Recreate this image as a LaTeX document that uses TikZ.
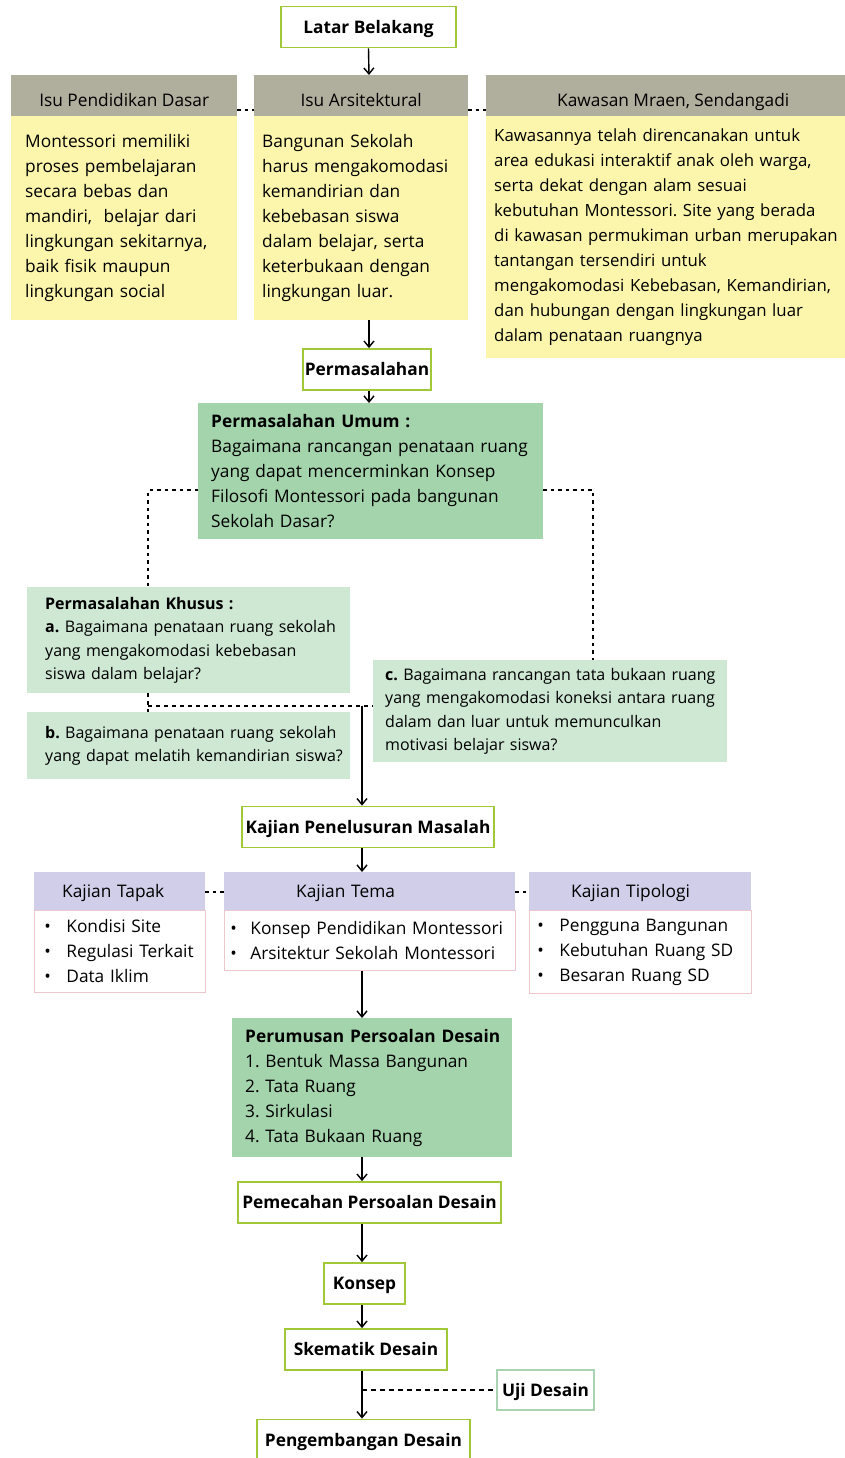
\documentclass[tikz,border=0pt]{standalone}
\usepackage{fontspec}
\setmainfont{Open Sans}
\usepackage{tikz}
\usetikzlibrary{positioning,arrows.meta,calc}
\definecolor{stLine}{RGB}{160,200,55}
\definecolor{ujLine}{RGB}{168,212,178}
\definecolor{hdGray}{RGB}{176,174,156}
\definecolor{isuFill}{RGB}{252,246,172}
\definecolor{umFill}{RGB}{164,212,172}
\definecolor{khFill}{RGB}{206,232,212}
\definecolor{kjHead}{RGB}{208,206,232}
\definecolor{kjLine}{RGB}{236,200,206}
\newcommand{\bul}{\makebox[22pt][l]{\textbullet}}
\newcommand{\padleft}[1]{\leftskip=#1\relax}
\frenchspacing

\begin{document}
\begin{tikzpicture}[x=1pt,y=-1pt,>={Straight Barb[length=6pt,width=10pt]},
  txt/.style  ={font=\fontsize{17.3}{25}\selectfont},
  stage/.style={draw=stLine,line width=1.8pt,fill=white,inner sep=0pt,minimum height=41pt,text height=12.4pt,text depth=0pt,font=\fontsize{17.3}{20}\selectfont\bfseries},
  hdr/.style  ={fill=hdGray,anchor=north west,inner sep=0pt,minimum height=41pt,text height=21pt,text depth=0pt,txt},
  isu/.style  ={fill=isuFill,anchor=north west,inner sep=0pt,align=left,txt},
  umum/.style ={fill=umFill,anchor=north west,inner sep=0pt,align=left,txt},
  khus/.style ={fill=khFill,anchor=north west,inner sep=0pt,align=left,font=\fontsize{16}{23.5}\selectfont},
  kjh/.style  ={fill=kjHead,anchor=north west,inner sep=0pt,minimum height=38pt,text height=17pt,text depth=5pt,align=left,txt},
  kjb/.style  ={draw=kjLine,line width=0.8pt,fill=white,anchor=north west,inner sep=0pt,align=left,txt},
  flow/.style ={->,line width=1.4pt},
  dots/.style ={line width=2pt,dash pattern=on 3.5pt off 4pt},
  thin/.style ={line width=1.3pt,dash pattern=on 4.5pt off 4.5pt}]

\useasboundingbox (0,0) rectangle (845,1458);

% latar belakang
\node[stage,minimum width=175pt] (latar) at (368.5,27) {Latar Belakang};

\node[hdr,minimum width=226pt] (hPend) at (11,75)  {Isu Pendidikan Dasar};
\node[hdr,minimum width=214pt] (hArs)  at (254,75) {Isu Arsitektural};
\node[hdr,minimum width=374pt] (hKaw)  at (486,75) {Kawasan Mraen, Sendangadi};

\node[isu,text width=226pt,minimum height=204pt] (bPend) at (11,116)
  {\padleft{14pt}Montessori memiliki\\ proses pembelajaran\\ secara bebas dan\\ mandiri,~ belajar dari\\ lingkungan sekitarnya,\\ baik fisik maupun\\ lingkungan social\par};
\node[isu,text width=214pt,minimum height=204pt] (bArs) at (254,116)
  {\padleft{8pt}Bangunan Sekolah\\ harus mengakomodasi\\ kemandirian dan\\ kebebasan siswa\\ dalam belajar, serta\\ keterbukaan dengan\\ lingkungan luar.\par};
\node[isu,text width=374pt,minimum height=242pt,font=\fontsize{16.8}{25}\selectfont] (bKaw) at (486,116)
  {\padleft{8pt}Kawasannya telah direncanakan untuk\\ area edukasi interaktif anak oleh warga,\\ serta dekat dengan alam sesuai\\ kebutuhan Montessori. Site yang berada\\ di kawasan permukiman urban merupakan\\ tantangan tersendiri untuk\\ mengakomodasi Kebebasan, Kemandirian,\\ dan hubungan dengan lingkungan luar\\ dalam penataan ruangnya\par};

\draw[dots] ([yshift=6pt]hPend.south east) -- ([yshift=6pt]hArs.south west);
\draw[dots] ([yshift=6pt]hArs.south east) -- ([yshift=6pt]hKaw.south west);

% permasalahan
\node[stage,minimum width=128pt] (masalah) at (367,369.5) {Permasalahan};
\node[umum,text width=345pt,minimum height=136pt] (umum) at (198,403)
  {\padleft{13pt}\textbf{Permasalahan Umum :}\\ Bagaimana rancangan penataan ruang\\ yang dapat mencerminkan Konsep\\ Filosofi Montessori pada bangunan\\ Sekolah Dasar?\par};

\coordinate (ax) at (369,0);
\draw[flow] (latar.south) -- (ax|-hArs.north);
\draw[flow] (ax|-bArs.south) -- (ax|-masalah.north);
\draw[flow] (ax|-masalah.south) -- (ax|-umum.north);

\node[khus,text width=323pt,minimum height=106pt] (khA) at (27,587)
  {\padleft{18pt}\textbf{Permasalahan Khusus :}\\ \textbf{a.} Bagaimana penataan ruang sekolah\\ yang mengakomodasi kebebasan\\ siswa dalam belajar?\par};
\node[khus,text width=323pt,minimum height=67pt] (khB) at (27,712)
  {\padleft{18pt}\textbf{b.} Bagaimana penataan ruang sekolah\\ yang dapat melatih kemandirian siswa?\par};
\node[khus,text width=354pt,minimum height=102pt] (khC) at (373,660)
  {\padleft{12pt}\textbf{c.} Bagaimana rancangan tata bukaan ruang\\ yang mengakomodasi koneksi antara ruang\\ dalam dan luar untuk memunculkan\\ motivasi belajar siswa?\par};

\coordinate (lTurn) at (148,490);
\coordinate (rTurn) at (593,490);
\coordinate (jn)    at (148,706);
\coordinate (mid)   at (362,706);
\draw[dots] (umum.west|-lTurn) -- (lTurn) -- (lTurn|-khA.north);
\draw[dots] (umum.east|-rTurn) -- (rTurn) -- (rTurn|-khC.north);
\draw[thin,line width=1.5pt,dash pattern=on 4pt off 4pt] (jn|-khA.south) -- (jn|-khB.north);
\draw[thin,line width=1.5pt,dash pattern=on 4pt off 4pt] (jn) -- (khC.west|-jn);

% kajian
\node[stage,minimum width=252pt] (kpm) at (368,827) {Kajian Penelusuran Masalah};
\draw[flow] (mid) -- (mid|-kpm.north);

\node[kjh,text width=171pt] (hTapak) at (34,872)  {\hspace*{28pt}Kajian Tapak};
\node[kjh,text width=291pt] (hTema)  at (224,872) {\hspace*{72pt}Kajian Tema};
\node[kjh,text width=222pt] (hTipo)  at (529,872) {\hspace*{42pt}Kajian Tipologi};
\node[kjb,text width=171pt,minimum height=82pt] (bTapak) at (34,910)
  {\padleft{10pt}\bul Kondisi Site\\ \bul Regulasi Terkait\\ \bul Data Iklim\par};
\node[kjb,text width=291pt,minimum height=60pt] (bTema) at (224,910)
  {\padleft{6pt}\makebox[20pt][l]{\textbullet}Konsep Pendidikan Montessori\\ \makebox[20pt][l]{\textbullet}Arsitektur Sekolah Montessori\par};
\node[kjb,text width=222pt,minimum height=83pt] (bTipo) at (529,910)
  {\padleft{8pt}\bul Pengguna Bangunan\\ \bul Kebutuhan Ruang SD\\ \bul Besaran Ruang SD\par};

\draw[dots,line width=1.8pt] ([yshift=-20pt]hTapak.north east) -- ([yshift=-20pt]hTema.north west);
\draw[dots,line width=1.8pt] ([yshift=-20pt]hTema.north east) -- ([yshift=-20pt]hTipo.north west);
\draw[flow] (mid|-kpm.south) -- (mid|-hTema.north);

% perumusan dan tahap desain
\node[umum,text width=280pt,minimum height=139pt] (rumus) at (232,1018)
  {\padleft{13pt}\textbf{Perumusan Persoalan Desain}\\ 1. Bentuk Massa Bangunan\\ 2. Tata Ruang\\ 3. Sirkulasi\\ 4. Tata Bukaan Ruang\par};
\draw[flow] (mid|-bTema.south) -- (mid|-rumus.north);

\node[stage,minimum width=263pt] (pecah)  at (369.5,1202.5) {Pemecahan Persoalan Desain};
\node[stage,minimum width=81pt]  (konsep) at (364.5,1283.5) {Konsep};
\node[stage,minimum width=162pt] (skema)  at (366,1349.5)   {Skematik Desain};
\node[stage,draw=ujLine,minimum width=97pt,minimum height=40pt] (uji) at (545.5,1390) {Uji Desain};
\node[stage,minimum width=213pt] (kembang) at (363.5,1440) {Pengembangan Desain};

\draw[flow] (mid|-rumus.south) -- (mid|-pecah.north);
\draw[flow] (mid|-pecah.south) -- (mid|-konsep.north);
\draw[flow] (mid|-konsep.south) -- (mid|-skema.north);
\draw[flow] (mid|-skema.south) -- (mid|-kembang.north);
\draw[thin] (mid|-uji) -- (uji.west);
\end{tikzpicture}
\end{document}
